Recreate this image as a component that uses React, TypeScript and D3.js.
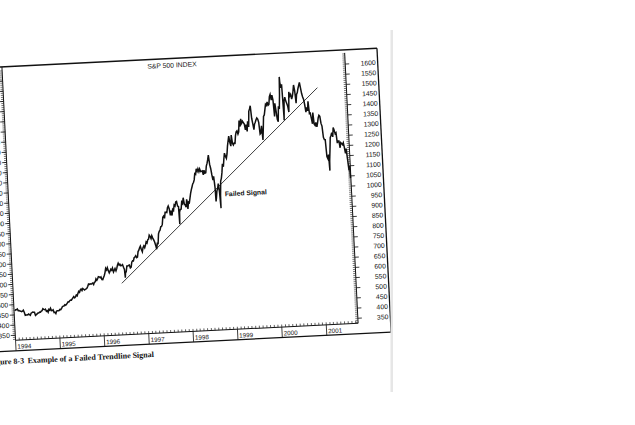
import React from "react";
import * as d3 from "d3";

// ---- data (weekly closes) ----
const yearStarts = ["1994-01-07", "1995-01-06", "1996-01-05", "1997-01-03", "1998-01-02", "1999-01-08", "2000-01-07", "2001-01-05"];

const close1994 = [469.9, 474.9, 474.7, 478.7, 469.8, 470.2, 467.7, 467.0, 464.7, 466.4, 471.1, 460.6, 445.8, 447.1, 446.2, 447.6, 450.9, 447.8, 444.1, 454.9, 457.3, 460.1, 458.7, 458.5, 442.8, 446.2, 449.6, 454.2, 453.9, 458.3, 457.1, 461.9, 463.7, 473.8, 470.0, 468.2, 471.2, 459.7, 462.7, 455.1, 469.1, 464.9, 473.8, 462.3, 462.6, 466.0, 452.3, 453.3, 446.9, 458.8, 459.6, 459.3];
const close1995 = [460.7, 466.0, 464.8, 470.4, 478.7, 481.5, 482.0, 488.1, 485.4, 489.6, 495.5, 501.0, 500.7, 506.4, 509.2, 508.5, 514.7, 520.1, 525.6, 519.2, 523.7, 532.5, 527.9, 539.8, 549.7, 544.8, 556.4, 560.9, 553.5, 562.9, 558.9, 555.1, 559.2, 560.1, 563.8, 572.7, 583.4, 581.7, 584.4, 582.6, 584.5, 587.5, 579.7, 590.6, 592.7, 607.0, 600.0, 607.0, 617.5, 616.3, 612.0, 615.9];
const close1996 = [602.7, 601.8, 611.4, 621.6, 635.8, 656.4, 648.0, 659.1, 644.4, 633.5, 641.4, 650.6, 645.5, 655.9, 636.7, 645.1, 653.5, 641.6, 652.1, 668.9, 678.5, 669.1, 673.3, 665.2, 666.8, 670.6, 657.4, 646.2, 628.4, 635.9, 662.5, 662.1, 665.2, 667.0, 652.0, 655.7, 680.5, 687.0, 686.2, 701.5, 705.0, 710.8, 700.9, 703.8, 730.8, 737.6, 748.7, 757.0, 739.6, 728.6, 748.9, 756.8];
const close1997 = [748.0, 759.5, 776.2, 770.5, 786.2, 789.6, 808.5, 801.8, 790.8, 805.0, 793.2, 784.1, 773.9, 757.9, 737.7, 766.3, 765.4, 813.0, 824.8, 829.8, 847.0, 848.3, 858.0, 893.3, 898.7, 887.3, 916.9, 916.7, 915.3, 938.8, 947.1, 933.5, 900.8, 923.5, 899.5, 929.1, 923.9, 950.5, 945.2, 965.0, 967.0, 944.2, 941.6, 914.6, 927.5, 928.4, 963.1, 955.4, 983.8, 953.4, 946.8, 936.5];
const close1998 = [975.0, 927.7, 961.5, 957.6, 980.3, 1003.5, 1020.1, 1034.2, 1049.3, 1055.7, 1068.6, 1099.2, 1095.4, 1122.7, 1110.7, 1122.7, 1107.9, 1121.0, 1108.1, 1108.7, 1110.5, 1090.8, 1113.9, 1098.8, 1100.7, 1133.2, 1146.4, 1164.3, 1186.8, 1140.8, 1120.7, 1089.5, 1062.8, 1081.2, 1027.1, 973.9, 1009.1, 1020.1, 1044.8, 1002.6, 984.4, 1056.4, 1070.7, 1098.7, 1141.0, 1125.7, 1163.6, 1192.3, 1176.7, 1166.5, 1188.0, 1226.3];
const close1999 = [1275.1, 1243.3, 1225.2, 1279.6, 1239.4, 1230.1, 1239.2, 1238.3, 1275.5, 1294.6, 1299.3, 1282.8, 1293.7, 1348.4, 1319.0, 1356.9, 1335.2, 1345.0, 1337.8, 1330.3, 1301.8, 1327.8, 1293.6, 1342.8, 1315.3, 1391.2, 1403.3, 1418.8, 1356.9, 1328.7, 1300.3, 1327.7, 1336.6, 1348.3, 1357.2, 1351.7, 1335.4, 1277.4, 1282.8, 1317.6, 1247.4, 1301.7, 1362.9, 1370.2, 1396.1, 1422.0, 1416.6, 1433.3, 1417.0, 1421.0, 1458.3, 1469.3];
const close2000 = [1441.5, 1465.2, 1441.4, 1360.2, 1424.4, 1387.1, 1346.1, 1333.4, 1409.2, 1395.1, 1464.5, 1527.5, 1498.6, 1516.4, 1356.6, 1434.5, 1452.4, 1432.6, 1421.0, 1407.0, 1378.0, 1477.3, 1457.0, 1464.5, 1441.5, 1454.6, 1478.9, 1510.0, 1480.2, 1419.9, 1462.9, 1471.8, 1491.7, 1506.5, 1520.8, 1494.5, 1465.8, 1448.7, 1436.5, 1409.0, 1374.2, 1396.9, 1379.6, 1426.7, 1366.0, 1367.7, 1341.8, 1315.2, 1369.9, 1312.2, 1306.0, 1320.3];
const close2001 = [1298.4, 1318.3, 1342.5, 1355.0, 1349.5, 1314.8, 1301.5, 1245.9, 1234.2, 1233.4, 1150.5, 1139.8, 1160.3, 1128.4, 1183.5, 1243.0, 1253.1, 1266.6, 1245.7, 1292.0, 1277.9, 1260.7, 1265.0, 1214.4, 1225.4, 1224.4, 1190.6, 1215.7, 1210.9, 1205.8, 1214.4, 1190.2, 1162.0, 1184.9, 1133.6, 1085.8, 1092.5];

// intra-week extremes visible as spikes
const extraDates = ["1996-07-16", "1997-10-28", "1998-08-31", "1998-10-08", "2000-03-22", "2000-04-14", "2001-04-04", "2001-09-17"];
const extraValues = [605.9, 855.3, 957.3, 923.3, 1552.9, 1339.4, 1081.2, 1038.8];

const trendDates = ["1996-06-15", "2001-01-25"];
const trendValues = [579, 1491];

const yTickLabels = [350, 400, 450, 500, 550, 600, 650, 700, 750, 800, 850, 900, 950, 1000, 1050, 1100, 1150, 1200, 1250, 1300, 1350, 1400, 1450, 1500, 1550, 1600];
const yearLabels = ["1994", "1995", "1996", "1997", "1998", "1999", "2000", "2001"];

const chartTitle = "S&P 500 INDEX";
const annotationText = "Failed Signal";
const annotationDate = "1998-11-14";
const annotationValue = 992;
const captionPrefix = "Figure 8-3";
const captionText = "Example of a Failed Trendline Signal";

const SANS = "'Liberation Sans', Arial, Helvetica, sans-serif";
const SERIF = "'Liberation Serif', 'Times New Roman', serif";

export default function App() {
  const W = 635, H = 425;
  const parse = d3.timeParse("%Y-%m-%d");
  const yearSeries = [close1994, close1995, close1996, close1997, close1998, close1999, close2000, close2001];

  const pts: { d: Date; v: number }[] = [];
  yearSeries.forEach((arr, yi) => {
    const s = parse(yearStarts[yi]) as Date;
    arr.forEach((v, i) => pts.push({ d: d3.timeDay.offset(s, i * 7), v }));
  });
  extraDates.forEach((ds, i) => pts.push({ d: parse(ds) as Date, v: extraValues[i] }));
  pts.sort((a, b) => +a.d - +b.d);

  const x0 = parse("1994-01-01") as Date;
  const x1 = parse("2001-09-20") as Date;
  const x = d3.scaleTime().domain([x0, x1]).range([1.5, 344.5]);
  const y = d3.scaleLinear().domain([350, 1600]).range([317, 62.5]);

  const plotTop = 48.3, plotBottom = 322, frameBottom = 332.5, frameRight = 377, frameLeft = -80;
  const L = x.range()[0], R = x.range()[1];

  const line = d3.line<{ d: Date; v: number }>().x(p => x(p.d)).y(p => y(p.v));

  const minorY = d3.range(330, 1670, 10).filter(v => y(v) >= plotTop + 2 && y(v) <= plotBottom);
  const months = d3.timeMonth.range(x0, x1);
  const years = d3.timeYear.range(x0, x1);

  const tx0 = x(parse(trendDates[0]) as Date), ty0 = y(trendValues[0]);
  const tx1 = x(parse(trendDates[1]) as Date), ty1 = y(trendValues[1]);

  return (
    <svg width={W} height={H} style={{ position: "absolute", left: 0, top: 0, opacity: 0.999 }}>
      <rect width={W} height={H} fill="#fff" />
      <g transform="rotate(-2.85 376 49)">
        {/* outer frame */}
        <line x1={frameLeft} x2={frameRight} y1={plotTop} y2={plotTop} stroke="#111" strokeWidth={1.3} />
        <line x1={frameRight} x2={frameRight} y1={plotTop} y2={frameBottom} stroke="#111" strokeWidth={1.3} />
        <line x1={frameLeft} x2={frameRight} y1={frameBottom} y2={frameBottom} stroke="#111" strokeWidth={1.3} />

        {/* left axis */}
        <line x1={L} x2={L} y1={plotTop} y2={plotBottom} stroke="#111" strokeWidth={1} />
        {minorY.map(v => (
          <line key={"lm" + v} x1={L - 2.5} x2={L} y1={y(v)} y2={y(v)} stroke="#222" strokeWidth={0.6} />
        ))}
        {yTickLabels.map(v => (
          <g key={"ll" + v}>
            <line x1={L - 4.5} x2={L} y1={y(v)} y2={y(v)} stroke="#111" strokeWidth={0.8} />
            <text x={L - 5.5} y={y(v)} dy="0.35em" textAnchor="end" fontFamily={SANS} fontSize={6.8} fill="#111">{v}</text>
          </g>
        ))}

        {/* right axis */}
        <line x1={R} x2={R} y1={plotTop + 3} y2={plotBottom} stroke="#111" strokeWidth={1} />
        {minorY.map(v => (
          <line key={"rm" + v} x1={R - 2.5} x2={R} y1={y(v)} y2={y(v)} stroke="#222" strokeWidth={0.6} />
        ))}
        {yTickLabels.map(v => (
          <g key={"rl" + v}>
            <line x1={R} x2={R + 4} y1={y(v)} y2={y(v)} stroke="#111" strokeWidth={0.8} />
            <text x={375} y={y(v)} dy="0.35em" textAnchor="end" fontFamily={SANS} fontSize={6.8} fill="#111">{v}</text>
          </g>
        ))}

        {/* x axis */}
        <line x1={L} x2={R} y1={plotBottom} y2={plotBottom} stroke="#111" strokeWidth={1} />
        {months.map((m, i) => (
          <line key={"mt" + i} x1={x(m)} x2={x(m)} y1={plotBottom - 2.5} y2={plotBottom} stroke="#222" strokeWidth={0.7} />
        ))}
        {years.map((yr, i) => (
          <g key={"yr" + i}>
            <line x1={x(yr)} x2={x(yr)} y1={plotBottom} y2={frameBottom} stroke="#111" strokeWidth={0.8} />
            <text x={x(yr) + 1.5} y={330.5} fontFamily={SANS} fontSize={6.3} fill="#111">{yearLabels[i]}</text>
          </g>
        ))}

        {/* title */}
        <text x={171.4} y={57.4} textAnchor="middle" fontFamily={SANS} fontSize={6.8} fill="#111">{chartTitle}</text>

        {/* price line */}
        <path d={line(pts) || ""} fill="none" stroke="#111" strokeWidth={1.5} strokeLinejoin="miter" />

        {/* trendline */}
        <line x1={tx0} y1={ty0} x2={tx1} y2={ty1} stroke="#111" strokeWidth={0.8} />

        {/* annotation */}
        <text x={x(parse(annotationDate) as Date)} y={y(annotationValue)} dy="0.35em" fontFamily={SANS} fontWeight="bold" fontSize={6.8} fill="#111">{annotationText}</text>

        {/* caption */}
        <text x={9} y={345.5} textAnchor="end" fontFamily={SERIF} fontWeight="bold" fontSize={8} fill="#111">{captionPrefix}</text>
        <text x={12.5} y={345.5} fontFamily={SERIF} fontWeight="bold" fontSize={8} fill="#111">{captionText}</text>
      </g>
      {/* page edge */}
      <rect x={390.5} y={30} width={2.5} height={362} fill="#e6e6e6" />
    </svg>
  );
}
